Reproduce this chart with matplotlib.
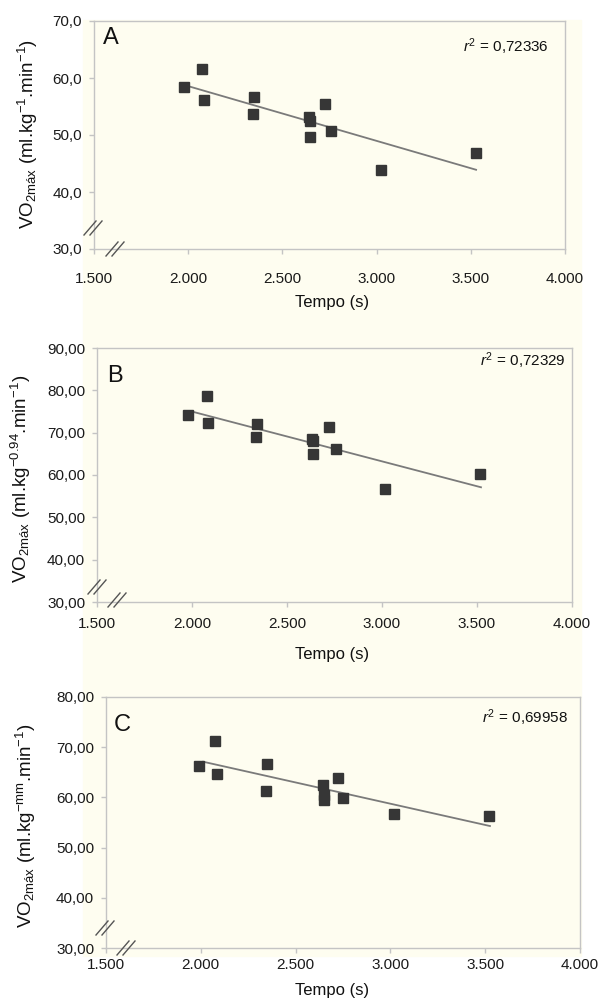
import numpy as np
import matplotlib
matplotlib.use("Agg")
import matplotlib.pyplot as plt
from matplotlib.patches import Rectangle
from matplotlib.lines import Line2D

plt.rcParams['font.family'] = ['Liberation Sans', 'DejaVu Sans']
plt.rcParams['mathtext.fontset'] = 'custom'
plt.rcParams['mathtext.rm'] = 'Liberation Sans'
plt.rcParams['mathtext.it'] = 'Liberation Sans:italic'
plt.rcParams['mathtext.bf'] = 'Liberation Sans:bold'

# tempo (ms-like values, shown with '.' thousands separator)
tempo_a = [1979, 2073, 2084, 2351, 2342, 2728, 2641, 2646, 2646, 2756, 3025, 3528]
vo2_a = [58.4, 61.5, 56.1, 56.6, 53.7, 55.4, 53.1, 52.5, 49.7, 50.7, 43.8, 46.8]
trend_a_x = [1997, 3528]
trend_a_y = [58.6, 43.9]

tempo_b = [1981, 2077, 2082, 2340, 2335, 2719, 2632, 2639, 2637, 2758, 3017, 3516]
vo2_b = [74.2, 78.7, 72.2, 72.0, 69.0, 71.3, 68.6, 68.1, 64.9, 66.1, 56.6, 60.3]
trend_b_x = [2007, 3521]
trend_b_y = [74.9, 57.1]

tempo_c = [1989, 2075, 2084, 2349, 2342, 2722, 2643, 2650, 2650, 2750, 3019, 3518]
vo2_c = [66.3, 71.3, 64.7, 66.7, 61.3, 63.8, 62.5, 60.5, 59.5, 59.9, 56.7, 56.3]
trend_c_x = [2013, 3525]
trend_c_y = [67.1, 54.3]

x_ticks = [1500, 2000, 2500, 3000, 3500, 4000]
r2_labels = ["0,72336", "0,72329", "0,69958"]
y_labels = [
    r"VO$_{2\mathrm{máx}}$ (ml.kg$^{-1}$.min$^{-1}$)",
    r"VO$_{2\mathrm{máx}}$ (ml.kg$^{-0.94}$.min$^{-1}$)",
    r"VO$_{2\mathrm{máx}}$ (ml.kg$^{-\mathrm{mm}}$.min$^{-1}$)",
]

W, H = 598, 1007
fig = plt.figure(figsize=(W / 100, H / 100), dpi=100)
fig.patch.set_facecolor('white')
cream = '#FEFDF0'
fig.patches.append(Rectangle((83 / W, 1 - 956 / H), 498 / W, 936 / H,
                             transform=fig.transFigure, color=cream, zorder=-10))


def px(x, y):
    return x / W, 1 - y / H


def box(l, t, r, b):
    return [l / W, 1 - b / H, (r - l) / W, (b - t) / H]


def slash_pair(cx, cy):
    for d in (-3.0, 3.0):
        x0, y0 = px(cx + d - 6, cy + 7)
        x1, y1 = px(cx + d + 6, cy - 7)
        fig.lines.append(Line2D([x0, x1], [y0, y1], transform=fig.transFigure,
                                color='#555555', lw=1.0, zorder=5))


panels = [
    dict(x=tempo_a, y=vo2_a, tx=trend_a_x, ty=trend_a_y, box=(94, 21, 565, 249),
         ylim=(30, 70), yt=[30, 40, 50, 60, 70], fmt="{:.1f}", pad=13,
         letter="A", lpos=(103, 38), r2pos=(549, 47), ylpos=(28, 134),
         xlpos=(332, 303), brk=((93, 228), (115, 249))),
    dict(x=tempo_b, y=vo2_b, tx=trend_b_x, ty=trend_b_y, box=(97, 348, 572, 602),
         ylim=(30, 90), yt=[30, 40, 50, 60, 70, 80, 90], fmt="{:.2f}", pad=7,
         letter="B", lpos=(107, 376), r2pos=(566, 361), ylpos=(21, 479),
         xlpos=(332, 655), brk=((97, 587), (117, 600))),
    dict(x=tempo_c, y=vo2_c, tx=trend_c_x, ty=trend_c_y, box=(106, 697, 580, 948),
         ylim=(30, 80), yt=[30, 40, 50, 60, 70, 80], fmt="{:.2f}", pad=3.5,
         letter="C", lpos=(114, 725), r2pos=(568, 718), ylpos=(26, 826),
         xlpos=(332, 990), brk=((105, 928), (126, 948))),
]

for i, p in enumerate(panels):
    ax = fig.add_axes(box(*p['box']))
    ax.set_facecolor(cream)
    ax.plot(p['tx'], p['ty'], color='#7a7a7a', lw=1.3, zorder=2)
    ax.plot(p['x'], p['y'], 's', ms=7, color='#363636', mec='#363636', zorder=3)
    ax.set_xlim(1500, 4000)
    ax.set_ylim(*p['ylim'])
    ax.set_xticks(x_ticks)
    ax.set_xticklabels([f"{v:,.0f}".replace(",", ".") for v in x_ticks])
    ax.set_yticks(p['yt'])
    ax.set_yticklabels([p['fmt'].format(v).replace(".", ",") for v in p['yt']])
    for s in ax.spines.values():
        s.set_color('#c4c4c4')
        s.set_linewidth(1.0)
    ax.tick_params(axis='both', direction='out', length=3.5, width=1.0,
                   color='#c4c4c4', labelsize=11, labelcolor='#1a1a1a')
    ax.tick_params(axis='x', pad=p['pad'])
    ax.tick_params(axis='y', pad=5)

    fig.text(*px(*p['lpos']), p['letter'], fontsize=17, ha='left', va='center',
             color='#111111')
    fig.text(*px(*p['r2pos']), r"$r^2$ = " + r2_labels[i], fontsize=11,
             ha='right', va='center', color='#111111')
    fig.text(*px(*p['ylpos']), y_labels[i], fontsize=13.5, rotation=90,
             ha='center', va='center', color='#111111')
    fig.text(*px(*p['xlpos']), "Tempo (s)", fontsize=12, ha='center',
             va='center', color='#111111')
    slash_pair(*p['brk'][0])
    slash_pair(*p['brk'][1])

fig.savefig("out.png", dpi=100, facecolor='white')
